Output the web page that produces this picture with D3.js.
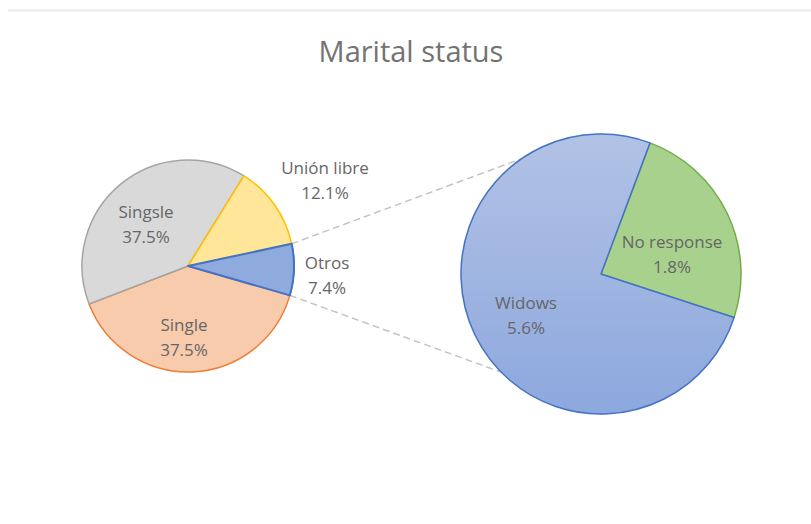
<!DOCTYPE html>
<html>
<head>
<meta charset="utf-8">
<script src="https://cdn.jsdelivr.net/npm/d3@7/dist/d3.min.js"></script>
<style>
  body { margin: 0; background: #fff; }
  svg text { font-family: "Open Sans", "Liberation Sans", sans-serif; fill: #666; }
</style>
</head>
<body>
<div id="chart"></div>
<script>
// main pie, listed clockwise starting with the split slice
const mainLabels = ["Otros", "Single", "Singsle", "Unión libre"];
const mainValues = [7.4, 37.5, 37.5, 12.1];
const mainFills = ["#8FAADC", "#F8CBAD", "#D9D9D9", "#FFE699"];
const mainStrokes = ["#4472C4", "#ED7D31", "#A5A5A5", "#FFC000"];

// secondary pie (breakdown of "Otros"), clockwise
const subLabels = ["No response", "Widows"];
const subValues = [1.8, 5.6];
const subStrokes = ["#70AD47", "#4472C4"];

const width = 811;
const height = 524;
const deg = Math.PI / 180;

const svg = d3.select("#chart")
  .append("svg")
  .attr("width", width)
  .attr("height", height);

const defs = svg.append("defs");
const grad = defs.append("linearGradient")
  .attr("id", "widowsGrad")
  .attr("x1", 0).attr("y1", 0).attr("x2", 0).attr("y2", 1);
grad.append("stop").attr("offset", "0%").attr("stop-color", "#B2C2E5");
grad.append("stop").attr("offset", "100%").attr("stop-color", "#8DA8DE");

const subFills = ["#A9D18E", "url(#widowsGrad)"];

// top border line
svg.append("line")
  .attr("x1", 8).attr("x2", width)
  .attr("y1", 10.5).attr("y2", 10.5)
  .attr("stroke", "#EBEBEB")
  .attr("stroke-width", 2);

// title
svg.append("text")
  .attr("x", 411)
  .attr("y", 62)
  .attr("text-anchor", "middle")
  .style("font-size", "29px")
  .style("fill", "#737373")
  .text("Marital status");

// main pie
const main = { cx: 188, cy: 266, r: 106 };
const mainTotal = d3.sum(mainValues);
const otrosSpan = mainValues[0] / mainTotal * 2 * Math.PI;
const mainStart = 92 * deg - otrosSpan / 2;

const mainPie = d3.pie().sort(null)
  .startAngle(mainStart)
  .endAngle(mainStart + 2 * Math.PI);
const mainArcs = mainPie(mainValues);
const mainArc = d3.arc().innerRadius(0).outerRadius(main.r);

// secondary pie
const sub = { cx: 601, cy: 274, r: 140 };
const subStart = 20.5 * deg;
const subPie = d3.pie().sort(null)
  .startAngle(subStart)
  .endAngle(subStart + 2 * Math.PI);
const subArcs = subPie(subValues);
const subArc = d3.arc().innerRadius(0).outerRadius(sub.r);

// connector lines from split slice edges to the secondary pie
const pt = (c, a, r) => [c.cx + r * Math.sin(a), c.cy - r * Math.cos(a)];
const otros = mainArcs[0];
const connectors = [
  [pt(main, otros.startAngle, main.r), pt(sub, -34.5 * deg, sub.r)],
  [pt(main, otros.endAngle, main.r), pt(sub, 225.5 * deg, sub.r)]
];
svg.append("g")
  .selectAll("line")
  .data(connectors)
  .join("line")
  .attr("x1", d => d[0][0]).attr("y1", d => d[0][1])
  .attr("x2", d => d[1][0]).attr("y2", d => d[1][1])
  .attr("stroke", "#C4C4C4")
  .attr("stroke-width", 1.5)
  .attr("stroke-dasharray", "7,4");

const gMain = svg.append("g")
  .attr("transform", `translate(${main.cx},${main.cy})`);
gMain.selectAll("path")
  .data(mainArcs)
  .join("path")
  .attr("d", mainArc)
  .attr("fill", (d, i) => mainFills[i])
  .attr("stroke", (d, i) => mainStrokes[i])
  .attr("stroke-width", 1.5)
  .attr("stroke-linejoin", "round");
// draw the split slice on top so its border is visible
gMain.append("path")
  .attr("d", mainArc(mainArcs[0]))
  .attr("fill", mainFills[0])
  .attr("stroke", mainStrokes[0])
  .attr("stroke-width", 2)
  .attr("stroke-linejoin", "round");

const gSub = svg.append("g")
  .attr("transform", `translate(${sub.cx},${sub.cy})`);
gSub.selectAll("path")
  .data(subArcs)
  .join("path")
  .attr("d", subArc)
  .attr("fill", (d, i) => subFills[i])
  .attr("stroke", (d, i) => subStrokes[i])
  .attr("stroke-width", 1.5)
  .attr("stroke-linejoin", "round");

const fmt = v => v.toFixed(1) + "%";

// label anchor points (centre x, middle of first line)
const mainLabelXY = [
  [327, 263],   // Otros
  [184, 325],   // Single
  [146, 212],   // Singsle
  [325, 168]    // Unión libre
];
const subLabelXY = [
  [672, 242],   // No response
  [526, 303]    // Widows
];

function addLabel(x, y, name, val) {
  const t = svg.append("text")
    .attr("text-anchor", "middle")
    .style("font-size", "17px");
  t.append("tspan").attr("x", x).attr("y", y + 6).text(name);
  t.append("tspan").attr("x", x).attr("y", y + 31).text(fmt(val));
}
mainLabels.forEach((n, i) => addLabel(mainLabelXY[i][0], mainLabelXY[i][1], n, mainValues[i]));
subLabels.forEach((n, i) => addLabel(subLabelXY[i][0], subLabelXY[i][1], n, subValues[i]));
</script>
</body>
</html>
